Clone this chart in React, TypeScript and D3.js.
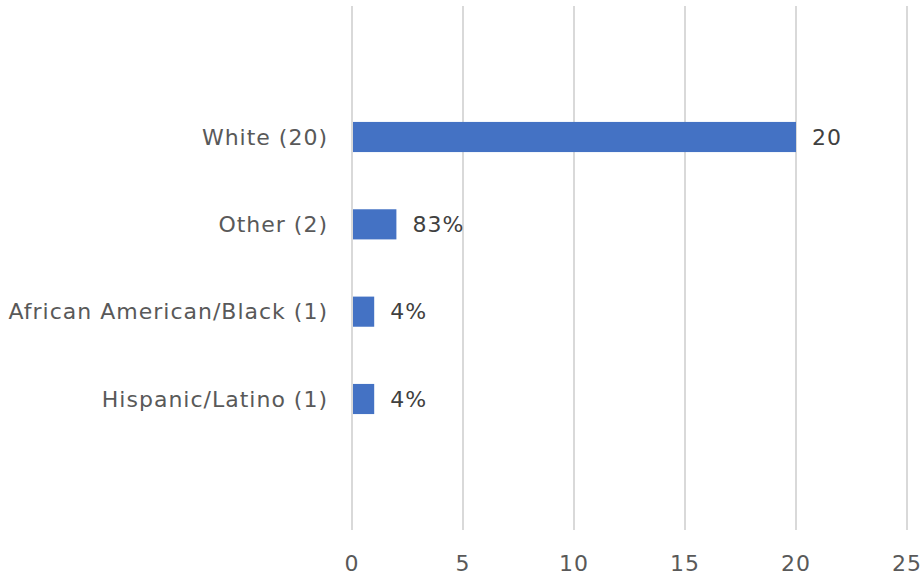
import React from "react";
import * as d3 from "d3";

const categories = ["White (20)", "Other (2)", "African American/Black (1)", "Hispanic/Latino (1)"];
const values = [20, 2, 1, 1];
const valueLabels = ["20", "83%", "4%", "4%"];
const xTicks = [0, 5, 10, 15, 20, 25];

const W = 923, H = 578;
const left = 352, right = 907, top = 6, bottom = 530;

export default function App() {
  const x = d3.scaleLinear().domain([0, 25]).range([left, right]);
  const step = (bottom - top) / (categories.length + 2);
  const y = d3.scaleBand<string>().domain(categories).range([top + step, bottom - step]).paddingInner(0.655).paddingOuter(0.3275);
  const font = "'DejaVu Sans', sans-serif";
  const fs = 22;
  const ls = 1;
  return (
    <svg width={W} height={H} style={{ position: "absolute", left: 0, top: 0 }}>
      <rect width={W} height={H} fill="#fff" />
      {xTicks.map(t => (
        <line key={t} x1={x(t)} x2={x(t)} y1={top} y2={bottom} stroke="#d9d9d9" strokeWidth={2} />
      ))}
      {categories.map((c, i) => {
        const yy = y(c)!;
        const bw = y.bandwidth();
        return (
          <g key={c}>
            <rect x={x(0) + 1} y={yy} width={x(values[i]) - x(0) - 1} height={bw} fill="#4472C4" />
            <text x={328} y={yy + bw / 2} dy="0.35em" textAnchor="end" fontFamily={font} fontSize={fs} letterSpacing={ls} fill="#595959">{c}</text>
            <text x={x(values[i]) + 16} y={yy + bw / 2} dy="0.35em" textAnchor="start" fontFamily={font} fontSize={fs} letterSpacing={ls} fill="#404040">{valueLabels[i]}</text>
          </g>
        );
      })}
      {xTicks.map(t => (
        <text key={t} x={x(t)} y={563} dy="0.35em" textAnchor="middle" fontFamily={font} fontSize={fs} letterSpacing={ls} fill="#595959">{t}</text>
      ))}
    </svg>
  );
}
